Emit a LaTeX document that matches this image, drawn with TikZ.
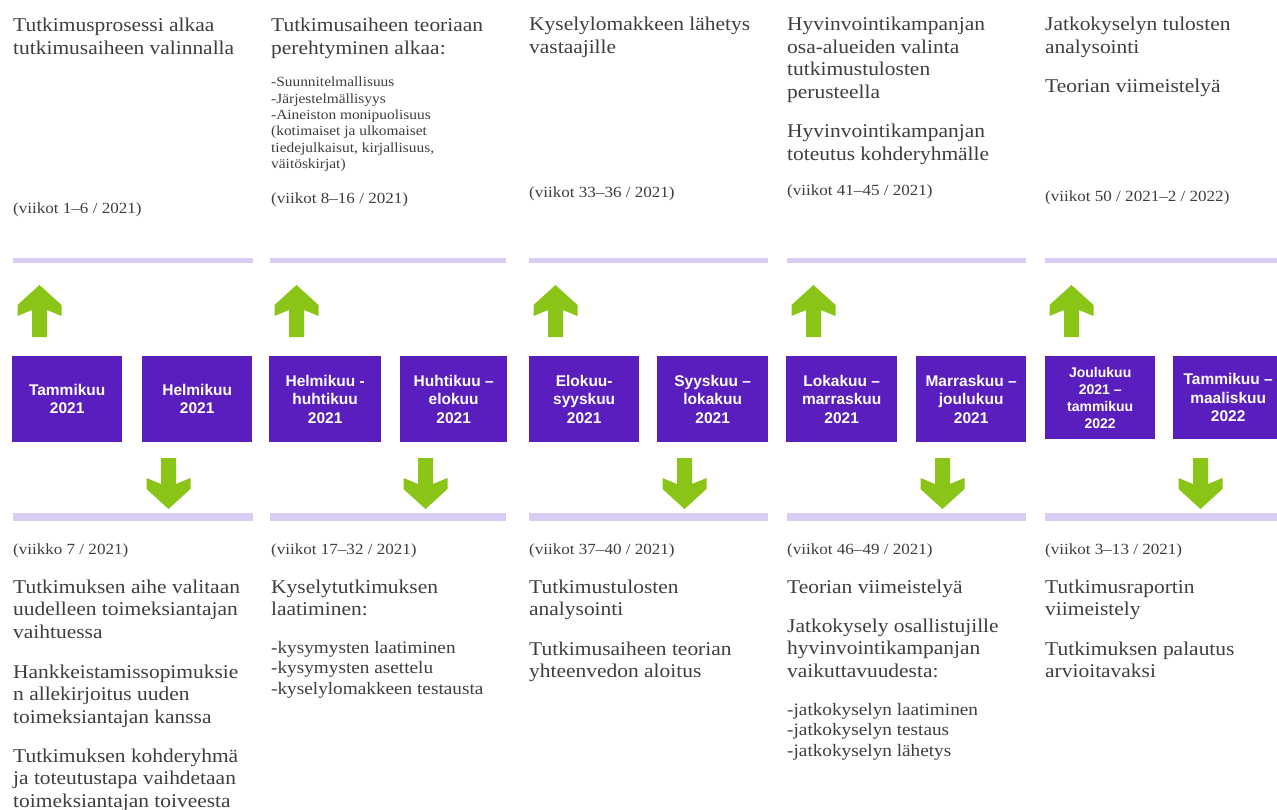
\documentclass[tikz,border=0pt]{standalone}
\usepackage{fontspec}
\setmainfont{Liberation Serif}[FakeStretch=1.1]
\newfontfamily\boxfont{Liberation Sans}
\definecolor{ink}{HTML}{3E3E3E}
\definecolor{monthfill}{RGB}{90,30,190}
\definecolor{leaf}{RGB}{138,196,22}
\definecolor{rule}{RGB}{218,205,245}

% multi-line text nodes are placed by the baseline of their last line
\tikzset{
  hd/.style={anchor=base west, inner sep=0pt, align=left, text=ink,
    font=\fontsize{19.5}{22.5}\selectfont},
  wk/.style={anchor=base west, inner sep=0pt, align=left, text=ink,
    font=\fontsize{15.5}{18}\selectfont},
  sm/.style={anchor=base west, inner sep=0pt, align=left, text=ink,
    font=\fontsize{14}{16.3}\selectfont},
  ls/.style={anchor=base west, inner sep=0pt, align=left, text=ink,
    font=\fontsize{17.5}{20.7}\selectfont},
  month/.style={anchor=north west, inner sep=0pt, fill=monthfill, text=white,
    align=center, minimum width=110pt, minimum height=86pt,
    font=\boxfont\bfseries\fontsize{15.5}{18.5}\selectfont},
  uparrow/.pic={\fill[leaf] (0,0) -- (22,20) -- (22,31) -- (7.5,25) -- (7.5,52)
    -- (-7.5,52) -- (-7.5,25) -- (-22,31) -- (-22,20) -- cycle;},
  downarrow/.pic={\fill[leaf] (0,0) -- (22,-20) -- (22,-31) -- (7.5,-25) -- (7.5,-51)
    -- (-7.5,-51) -- (-7.5,-25) -- (-22,-31) -- (-22,-20) -- cycle;}
}

\begin{document}
\begin{tikzpicture}[x=1pt,y=-1pt]
\useasboundingbox (0,0) rectangle (1277,810);

% separator rules above and below the month row
\foreach \c/\w in {13/240,270/236,529/239,787/239,1045/245}{
  \fill[rule] (\c,258.5) rectangle ++(\w,4.5);
  \fill[rule] (\c,513) rectangle ++(\w,8);
}

% month boxes
\node[month] (m1) at (12,356) {Tammikuu\\2021};
\node[month] (m2) at (142,356) {Helmikuu\\2021};
\node[month, minimum width=112pt] (m3) at (269,356) {Helmikuu -\\huhtikuu\\2021};
\node[month, minimum width=107pt] (m4) at (400,356) {Huhtikuu –\\elokuu\\2021};
\node[month] (m5) at (529,356) {Elokuu-\\syyskuu\\2021};
\node[month, minimum width=111pt] (m6) at (657,356) {Syyskuu –\\lokakuu\\2021};
\node[month, minimum width=111pt] (m7) at (786,356) {Lokakuu –\\marraskuu\\2021};
\node[month] (m8) at (916,356) {Marraskuu –\\joulukuu\\2021};
\node[month, minimum height=83pt, font=\boxfont\bfseries\fontsize{14}{17}\selectfont]
  (m9) at (1045,356) {Joulukuu\\2021 –\\tammikuu\\2022};
\node[month, minimum height=83pt] (m10) at (1173,356) {Tammikuu –\\maaliskuu\\2022};

% arrows
\foreach \c [count=\i] in {13,270,529,787,1045}{
  \pic (up\i) at (\c+26.5,285) {uparrow};
  \pic (dn\i) at (\c+155.5,509) {downarrow};
}

% upper texts
\node[hd] (t1) at (13,54.5) {Tutkimusprosessi alkaa\\tutkimusaiheen valinnalla};
\node[wk] (t1w) at (13,214) {(viikot 1–6 / 2021)};

\node[hd] (t2) at (271,54.5) {Tutkimusaiheen teoriaan\\perehtyminen alkaa:};
\node[sm] (t2l) at (271,168.5) {-Suunnitelmallisuus\\-Järjestelmällisyys\\-Aineiston monipuolisuus\\(kotimaiset ja ulkomaiset\\tiedejulkaisut, kirjallisuus,\\väitöskirjat)};
\node[wk] (t2w) at (271,204) {(viikot 8–16 / 2021)};

\node[hd] (t3) at (529,53.5) {Kyselylomakkeen lähetys\\vastaajille};
\node[wk] (t3w) at (529,198) {(viikot 33–36 / 2021)};

\node[hd] (t4a) at (787,98.5) {Hyvinvointikampanjan\\osa-alueiden valinta\\tutkimustulosten\\perusteella};
\node[hd] (t4b) at (787,160.5) {Hyvinvointikampanjan\\toteutus kohderyhmälle};
\node[wk] (t4w) at (787,196) {(viikot 41–45 / 2021)};

\node[hd] (t5a) at (1045,53.5) {Jatkokyselyn tulosten\\analysointi};
\node[hd] (t5b) at (1045,93) {Teorian viimeistelyä};
\node[wk] (t5w) at (1045,202) {(viikot 50 / 2021–2 / 2022)};

% lower texts
\node[wk] (b1w) at (13,554) {(viikko 7 / 2021)};
\node[hd] (b1a) at (13,638) {Tutkimuksen aihe valitaan\\uudelleen toimeksiantajan\\vaihtuessa};
\node[hd] (b1b) at (13,723) {Hankkeistamissopimuksie\\n allekirjoitus uuden\\toimeksiantajan kanssa};
\node[hd] (b1c) at (13,807) {Tutkimuksen kohderyhmä\\ja toteutustapa vaihdetaan\\toimeksiantajan toiveesta};

\node[wk] (b2w) at (271,554) {(viikot 17–32 / 2021)};
\node[hd] (b2a) at (271,615.5) {Kyselytutkimuksen\\laatiminen:};
\node[ls] (b2l) at (271,694.4) {-kysymysten laatiminen\\-kysymysten asettelu\\-kyselylomakkeen testausta};

\node[wk] (b3w) at (529,554) {(viikot 37–40 / 2021)};
\node[hd] (b3a) at (529,615.5) {Tutkimustulosten\\analysointi};
\node[hd] (b3b) at (529,677.5) {Tutkimusaiheen teorian\\yhteenvedon aloitus};

\node[wk] (b4w) at (787,554) {(viikot 46–49 / 2021)};
\node[hd] (b4a) at (787,593) {Teorian viimeistelyä};
\node[hd] (b4b) at (787,677) {Jatkokysely osallistujille\\hyvinvointikampanjan\\vaikuttavuudesta:};
\node[ls] (b4l) at (787,756.4) {-jatkokyselyn laatiminen\\-jatkokyselyn testaus\\-jatkokyselyn lähetys};

\node[wk] (b5w) at (1045,554) {(viikot 3–13 / 2021)};
\node[hd] (b5a) at (1045,615.5) {Tutkimusraportin\\viimeistely};
\node[hd] (b5b) at (1045,677.5) {Tutkimuksen palautus\\arvioitavaksi};
\end{tikzpicture}
\end{document}
